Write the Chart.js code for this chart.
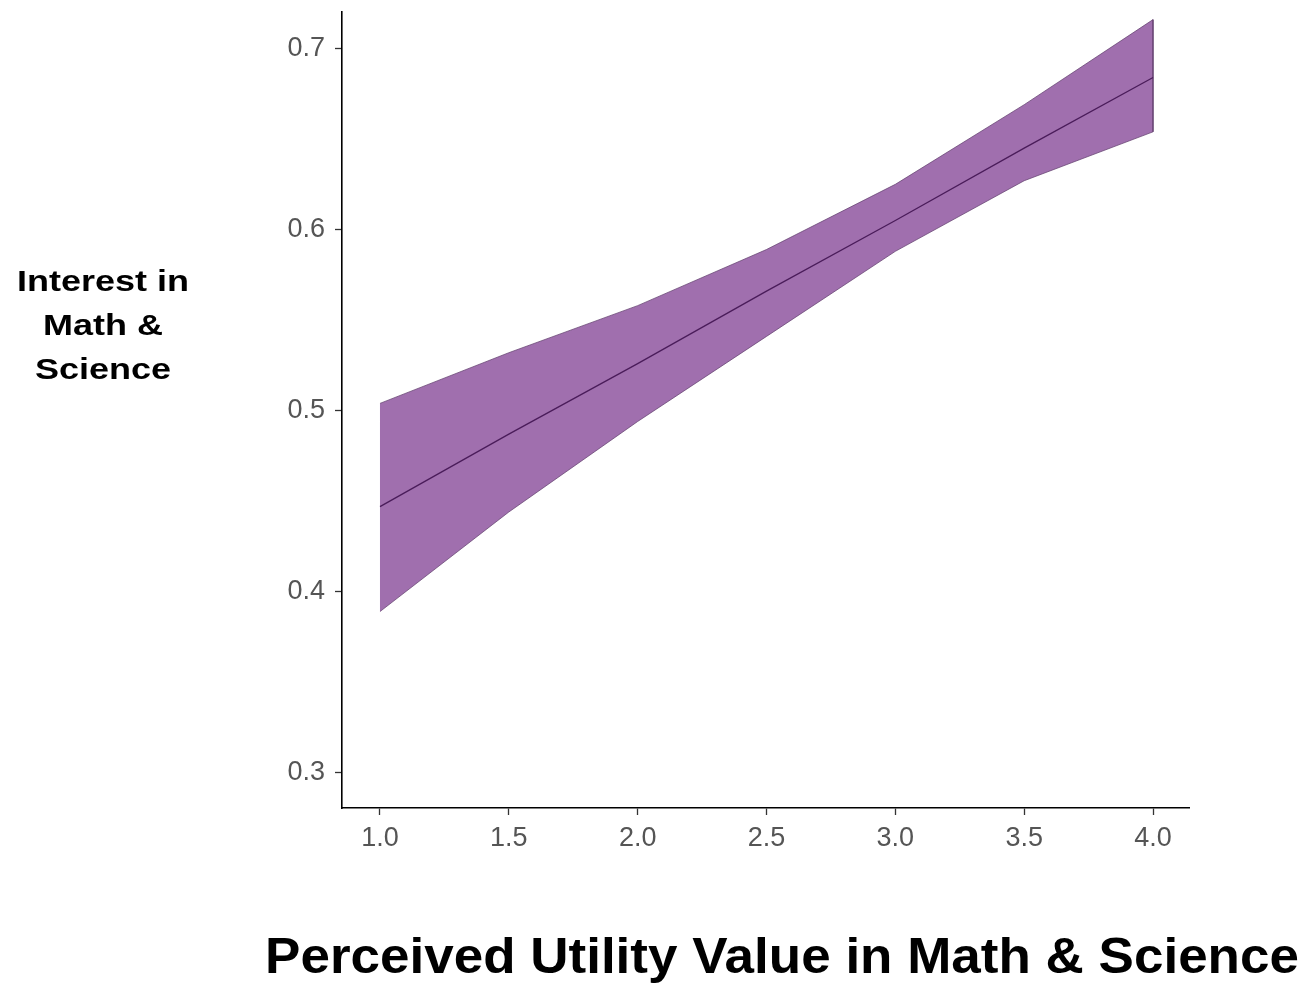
<!DOCTYPE html>
<html>
<head>
<meta charset="utf-8">
<script src="https://cdn.jsdelivr.net/npm/chart.js@4/dist/chart.umd.min.js"></script>
<style>
  html, body { margin: 0; padding: 0; background: #ffffff; }
  #wrap { width: 1309px; height: 984px; position: relative; }
</style>
</head>
<body>
<div id="wrap"><canvas id="chart" width="1309" height="984"></canvas></div>
<script>
// Predicted interest by perceived utility value, with confidence ribbon
const utilityValues = [1.0, 1.5, 2.0, 2.5, 3.0, 3.5, 4.0];
const predictedInterest = [0.447, 0.487, 0.526, 0.566, 0.605, 0.645, 0.684];
const upperBound = [0.504, 0.532, 0.558, 0.589, 0.625, 0.669, 0.716];
const lowerBound = [0.389, 0.444, 0.494, 0.541, 0.588, 0.627, 0.654];
const yTickValues = [0.3, 0.4, 0.5, 0.6, 0.7];
const xTickValues = [1.0, 1.5, 2.0, 2.5, 3.0, 3.5, 4.0];
const yAxisTitle = ['Interest in', 'Math &', 'Science'];
const xAxisTitle = 'Perceived Utility Value in Math & Science';

// Ribbon outline: along the upper bound, then back along the lower bound
const ribbon = utilityValues.map((x, i) => ({ x, y: upperBound[i] }))
  .concat(utilityValues.map((x, i) => ({ x, y: lowerBound[i] })).reverse());
const fitLine = utilityValues.map((x, i) => ({ x, y: predictedInterest[i] }));

const tickFont = { family: '"Liberation Sans", Arial, sans-serif', size: 27 };
const tickColor = '#555555';

// Axis titles drawn as plain text beside and below the plot
const titlesPlugin = {
  id: 'axisTitles',
  afterDraw(chart) {
    const ctx = chart.ctx;
    ctx.save();
    ctx.fillStyle = '#000000';
    ctx.textAlign = 'center';
    ctx.textBaseline = 'middle';
    ctx.font = 'bold 30px "Liberation Sans", Arial, sans-serif';
    const lineGap = 44;
    const stretch = 1.2;
    yAxisTitle.forEach((t, i) => {
      ctx.save();
      ctx.translate(103, 283 + i * lineGap);
      ctx.scale(stretch, 1);
      ctx.fillText(t, 0, 0);
      ctx.restore();
    });
    ctx.font = 'bold 50px "Liberation Sans", Arial, sans-serif';
    ctx.save();
    ctx.translate(782, 959);
    ctx.scale(1.06, 1);
    ctx.fillText(xAxisTitle, 0, 0);
    ctx.restore();
    ctx.restore();
  }
};

new Chart(document.getElementById('chart'), {
  type: 'line',
  data: {
    datasets: [
      {
        label: 'fit',
        data: fitLine,
        borderColor: '#4a1c5a',
        borderWidth: 1.3,
        pointRadius: 0,
        fill: false,
        tension: 0,
        order: 0
      },
      {
        label: 'ribbon',
        data: ribbon,
        borderColor: 'rgba(100, 66, 112, 0.75)',
        borderWidth: 1,
        backgroundColor: '#a06fae',
        pointRadius: 0,
        fill: 'shape',
        tension: 0,
        order: 1
      }
    ]
  },
  options: {
    responsive: false,
    animation: false,
    devicePixelRatio: 1,
    layout: { padding: { top: 12, right: 120, left: 0, bottom: 0 } },
    plugins: {
      legend: { display: false },
      tooltip: { enabled: false }
    },
    scales: {
      x: {
        type: 'linear',
        min: 0.8526,
        max: 4.1396,
        afterFit(scale) { scale.height = 176; },
        afterBuildTicks(scale) { scale.ticks = xTickValues.map(v => ({ value: v })); },
        border: { display: true, color: '#000000', width: 1.6 },
        grid: { drawOnChartArea: false, drawTicks: true, tickLength: 7, tickColor: '#333333', tickWidth: 1.3 },
        ticks: {
          font: tickFont,
          color: tickColor,
          padding: 7,
          maxRotation: 0,
          autoSkip: false,
          callback: v => Number(v).toFixed(1)
        }
      },
      y: {
        type: 'linear',
        min: 0.2805,
        max: 0.7202,
        afterFit(scale) {
          scale.width = 342;
          scale.paddingTop = 0;
          scale.paddingBottom = 0;
        },
        afterBuildTicks(scale) { scale.ticks = yTickValues.map(v => ({ value: v })); },
        border: { display: true, color: '#000000', width: 1.6 },
        grid: { drawOnChartArea: false, drawTicks: true, tickLength: 7, tickColor: '#333333', tickWidth: 1.3 },
        ticks: {
          font: tickFont,
          color: tickColor,
          padding: 10,
          autoSkip: false,
          callback: v => Number(v).toFixed(1)
        }
      }
    }
  },
  plugins: [titlesPlugin]
});
</script>
</body>
</html>
